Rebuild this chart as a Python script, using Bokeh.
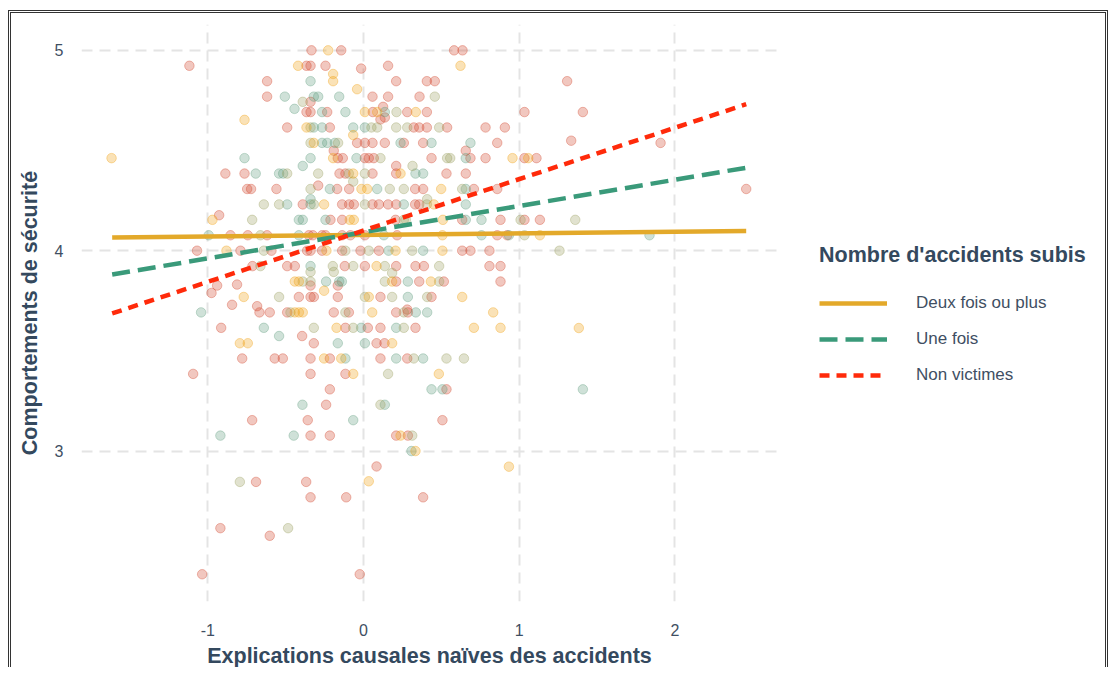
from bokeh.plotting import figure
from bokeh.models import Range1d, Legend, LegendItem, FixedTicker
from bokeh.layouts import row
from bokeh.embed import file_html
from bokeh.resources import INLINE

# ---------------- data ----------------
x_ticks = [-1, 0, 1, 2]
x_tick_labels = ["-1", "0", "1", "2"]
y_ticks = [3, 4, 5]
y_tick_labels = ["3", "4", "5"]
x_title = "Explications causales naïves des accidents"
y_title = "Comportements de sécurité"
legend_title = "Nombre d'accidents subis"
groups = ["Deux fois ou plus", "Une fois", "Non victimes"]

# fitted regression lines (end points)
fit_x = [-1.614, 2.458]
deux_y = [4.066, 4.098]
une_y = [3.881, 4.414]
non_y = [3.687, 4.731]

# scatter points (x, y) by point colour
red_pts = [
    (-0.334, 5.0), (-0.143, 5.0), (0.582, 5.0), (0.636, 5.0),
    (-1.118, 4.923), (-0.366, 4.923), (-0.340, 4.923), (-0.244, 4.923), (0.158, 4.923),
    (-0.015, 4.909),
    (-0.619, 4.846), (0.210, 4.846), (0.407, 4.846), (0.458, 4.846), (1.308, 4.846),
    (-0.619, 4.769), (0.058, 4.769), (0.158, 4.769), (0.360, 4.769),
    (-0.340, 4.743), (0.126, 4.718),
    (-0.366, 4.692), (-0.340, 4.692), (-0.233, 4.692), (0.060, 4.692), (0.281, 4.692),
    (0.407, 4.692), (1.034, 4.692), (1.409, 4.692),
    (0.109, 4.655), (0.137, 4.665),
    (-0.490, 4.615), (-0.216, 4.615), (0.323, 4.615), (0.358, 4.615), (0.407, 4.615),
    (0.537, 4.615), (0.784, 4.615), (0.908, 4.615),
    (1.334, 4.549),
    (-0.041, 4.538), (0.009, 4.538), (0.058, 4.538), (0.137, 4.538), (0.259, 4.538),
    (0.383, 4.538), (0.859, 4.538), (1.908, 4.538),
    (-0.191, 4.499), (0.657, 4.499),
    (-0.165, 4.462), (-0.133, 4.462), (0.009, 4.462), (0.034, 4.462), (0.066, 4.462),
    (0.437, 4.462), (0.687, 4.462), (0.784, 4.462), (1.034, 4.462), (1.111, 4.462),
    (0.210, 4.423),
    (-0.887, 4.385), (-0.764, 4.385), (-0.154, 4.385), (-0.116, 4.385), (0.058, 4.385),
    (0.210, 4.385), (0.533, 4.385), (0.657, 4.385),
    (-0.291, 4.325),
    (-0.747, 4.308), (-0.722, 4.308), (-0.559, 4.308), (-0.169, 4.308), (-0.092, 4.308),
    (0.332, 4.308), (0.383, 4.308), (0.709, 4.308), (0.859, 4.308), (2.458, 4.308),
    (-0.390, 4.231), (-0.137, 4.231), (-0.092, 4.231), (-0.062, 4.231), (0.058, 4.231),
    (0.099, 4.231), (0.158, 4.231), (0.210, 4.231), (0.332, 4.231), (0.358, 4.231),
    (-0.927, 4.177),
    (-0.212, 4.154), (-0.137, 4.154), (0.206, 4.154), (0.634, 4.154), (0.880, 4.154),
    (1.034, 4.154), (1.133, 4.154),
    (-0.854, 4.077), (-0.743, 4.077), (-0.619, 4.077), (-0.351, 4.077), (-0.325, 4.077),
    (-0.266, 4.077), (-0.244, 4.077), (-0.137, 4.077), (-0.084, 4.077), (0.009, 4.077),
    (0.216, 4.077), (0.859, 4.077), (0.923, 4.077),
    (-1.069, 4.0), (-0.790, 4.0), (-0.591, 4.0), (-0.362, 4.0), (-0.340, 4.0),
    (-0.266, 4.0), (-0.137, 4.0), (-0.019, 4.0), (0.099, 4.0), (0.634, 4.0),
    (0.687, 4.0), (0.809, 4.0),
    (-0.713, 3.923), (-0.490, 3.923), (-0.441, 3.923), (-0.120, 3.923), (0.009, 3.923),
    (0.210, 3.923), (0.334, 3.923), (0.388, 3.923), (0.809, 3.923), (0.880, 3.923),
    (-0.940, 3.826), (-0.812, 3.831), (-0.340, 3.826), (-0.165, 3.826),
    (0.210, 3.846), (0.358, 3.846), (0.516, 3.846), (0.880, 3.846),
    (-0.976, 3.789),
    (-0.415, 3.769), (-0.340, 3.769), (-0.319, 3.769), (-0.165, 3.769), (0.109, 3.769),
    (0.437, 3.769),
    (-0.844, 3.730), (-0.683, 3.723), (0.281, 3.706),
    (-0.668, 3.692), (-0.602, 3.692), (-0.490, 3.692), (-0.191, 3.692), (-0.094, 3.692),
    (0.210, 3.692), (0.285, 3.692),
    (-0.914, 3.615), (-0.116, 3.615), (0.028, 3.615), (0.109, 3.615), (0.334, 3.615),
    (-0.394, 3.574),
    (-0.319, 3.538), (0.084, 3.538), (0.135, 3.538),
    (-0.779, 3.462), (-0.570, 3.462), (-0.518, 3.462), (-0.340, 3.462), (-0.216, 3.462),
    (0.109, 3.462), (0.281, 3.462),
    (-1.094, 3.385), (-0.340, 3.385), (-0.116, 3.385),
    (-0.216, 3.308), (0.533, 3.308),
    (-0.240, 3.231),
    (-0.715, 3.154), (-0.358, 3.154), (0.507, 3.154),
    (-0.340, 3.077), (-0.216, 3.077), (0.210, 3.077), (0.285, 3.077),
    (0.084, 2.923),
    (-0.690, 2.846), (-0.368, 2.846),
    (-0.340, 2.769), (-0.111, 2.769), (0.383, 2.769),
    (-0.919, 2.615), (-0.602, 2.577),
    (-1.036, 2.385), (-0.024, 2.385),
]

teal_pts = [
    (-0.340, 4.846),
    (-0.505, 4.769), (-0.319, 4.769), (-0.291, 4.769), (-0.156, 4.769),
    (-0.443, 4.708),
    (-0.266, 4.692), (-0.116, 4.692), (0.137, 4.692),
    (-0.319, 4.615), (-0.266, 4.615), (-0.066, 4.615), (0.009, 4.615),
    (-0.266, 4.538), (-0.233, 4.538), (-0.184, 4.538), (0.238, 4.538), (0.437, 4.538),
    (0.687, 4.538),
    (-0.764, 4.462), (-0.340, 4.462), (-0.045, 4.462), (0.657, 4.462),
    (-0.390, 4.423),
    (-0.692, 4.385), (-0.542, 4.385), (-0.516, 4.385), (0.334, 4.385), (0.383, 4.385),
    (-0.216, 4.308), (0.088, 4.308), (0.657, 4.308),
    (-0.340, 4.257),
    (-0.490, 4.231), (-0.340, 4.231), (0.259, 4.231), (0.657, 4.231),
    (-0.415, 4.154), (-0.390, 4.154), (-0.244, 4.154), (0.657, 4.154), (0.758, 4.154),
    (-0.994, 4.077), (-0.415, 4.077), (0.131, 4.077), (0.758, 4.077), (0.934, 4.077),
    (1.837, 4.077),
    (0.161, 4.0), (0.383, 4.0),
    (-0.340, 3.923),
    (-0.240, 3.846), (-0.156, 3.846), (-0.139, 3.846), (0.285, 3.846),
    (0.285, 3.769),
    (-1.043, 3.692), (0.336, 3.692), (0.409, 3.692),
    (-0.640, 3.615), (-0.015, 3.615), (0.210, 3.615),
    (-0.542, 3.574),
    (-0.165, 3.538), (0.009, 3.538),
    (-0.116, 3.462), (0.210, 3.462), (0.383, 3.462),
    (0.437, 3.308), (0.507, 3.308), (1.409, 3.308),
    (-0.392, 3.231), (0.137, 3.231),
    (-0.066, 3.154),
    (-0.919, 3.077), (-0.448, 3.077),
    (0.308, 3.0),
]

olive_pts = [
    (0.458, 4.769), (-0.390, 4.743), (0.212, 4.692),
    (-0.340, 4.615), (0.051, 4.615), (0.088, 4.615), (0.210, 4.615), (0.281, 4.615),
    (0.486, 4.615),
    (-0.340, 4.538), (-0.163, 4.538),
    (0.109, 4.462), (0.537, 4.462), (0.557, 4.462),
    (0.315, 4.423),
    (-0.490, 4.385), (-0.291, 4.385), (-0.094, 4.385), (0.009, 4.385),
    (-0.066, 4.345),
    (-0.340, 4.308), (0.169, 4.308), (0.259, 4.308), (0.634, 4.308),
    (-0.640, 4.231), (-0.542, 4.231), (-0.319, 4.231), (0.009, 4.231), (0.407, 4.231),
    (0.409, 4.257),
    (-0.715, 4.154), (0.259, 4.154), (0.272, 4.154), (1.009, 4.154), (1.360, 4.154),
    (-0.662, 4.077), (1.034, 4.077),
    (-0.640, 4.0), (-0.116, 4.0), (0.034, 4.0), (0.313, 4.0), (1.259, 4.0),
    (-0.662, 3.923), (-0.197, 3.923), (-0.066, 3.923), (0.137, 3.923), (0.486, 3.923),
    (-0.340, 3.894), (-0.191, 3.894), (0.184, 3.889),
    (-0.390, 3.846), (-0.340, 3.846), (0.137, 3.846), (0.486, 3.846),
    (-0.542, 3.769), (0.009, 3.769), (0.184, 3.769), (0.409, 3.769),
    (-0.469, 3.692), (-0.116, 3.692), (0.259, 3.692),
    (-0.319, 3.615), (-0.066, 3.615), (0.259, 3.615),
    (0.323, 3.462), (0.533, 3.462), (0.645, 3.462),
    (0.158, 3.385),
    (0.109, 3.231),
    (0.313, 3.077),
    (-0.794, 2.846),
    (-0.484, 2.615),
]

yellow_pts = [
    (-1.618, 4.462),
    (-0.227, 5.0),
    (-0.420, 4.923), (0.623, 4.923),
    (-0.195, 4.882), (-0.195, 4.846), (-0.041, 4.806),
    (-0.764, 4.653),
    (0.009, 4.692), (0.088, 4.692), (0.336, 4.692),
    (-0.366, 4.615), (-0.066, 4.577),
    (-0.319, 4.538),
    (-0.195, 4.462), (0.957, 4.462), (1.058, 4.462),
    (-0.066, 4.385), (0.238, 4.385),
    (-0.013, 4.308), (0.024, 4.308), (0.499, 4.308),
    (-0.253, 4.231), (0.452, 4.231),
    (-0.970, 4.154), (-0.088, 4.154), (-0.062, 4.154), (0.510, 4.154),
    (0.507, 4.077), (1.133, 4.077),
    (-0.880, 4.0), (-0.238, 4.0), (0.206, 4.0), (0.507, 4.0),
    (0.084, 3.923),
    (-0.441, 3.846), (-0.415, 3.846), (0.184, 3.846), (0.433, 3.846),
    (-0.253, 3.800),
    (-0.769, 3.769), (0.034, 3.769), (0.634, 3.769),
    (-0.441, 3.692), (-0.415, 3.692), (-0.390, 3.692), (0.056, 3.692), (0.833, 3.692),
    (-0.173, 3.615), (0.709, 3.615), (0.880, 3.615), (1.383, 3.614),
    (-0.794, 3.538), (-0.743, 3.538), (0.184, 3.538),
    (-0.253, 3.462), (-0.143, 3.462),
    (-0.066, 3.385), (0.484, 3.385),
    (0.238, 3.077),
    (0.334, 3.0),
    (0.934, 2.922),
    (0.034, 2.849),
]

# ---------------- styling ----------------
TITLE_COL = "#34495E"
TICK_COL = "#3F4F63"
FONT = "Liberation Sans"
BORDER = "3px double #333"
H = 657
W_MAIN = 795
W_LEG = 305

p = figure(width=W_MAIN, height=H, output_backend="svg", toolbar_location=None,
           x_range=Range1d(-1.811, 2.659), y_range=Range1d(2.249, 5.129),
           min_border_left=70, min_border_top=11, min_border_bottom=67,
           min_border_right=W_MAIN - 70 - 696)
p.styles = {"border-top": BORDER, "border-left": BORDER}
p.outline_line_color = None
p.background_fill_color = "white"
p.border_fill_color = "white"

for ax in (p.xaxis[0], p.yaxis[0]):
    ax.axis_line_color = None
    ax.major_tick_line_color = None
    ax.minor_tick_line_color = None
    ax.major_tick_out = 0
    ax.major_tick_in = 0
    ax.major_label_text_font = FONT
    ax.major_label_text_font_size = "16px"
    ax.major_label_text_color = TICK_COL
    ax.axis_label_text_font = FONT
    ax.axis_label_text_font_size = "21.5px"
    ax.axis_label_text_font_style = "bold"
    ax.axis_label_text_color = TITLE_COL

p.xaxis.ticker = FixedTicker(ticks=x_ticks)
p.yaxis.ticker = FixedTicker(ticks=y_ticks)
p.xaxis.major_label_overrides = {t: s for t, s in zip(x_ticks, x_tick_labels)}
p.yaxis.major_label_overrides = {t: s for t, s in zip(y_ticks, y_tick_labels)}
p.xaxis.axis_label = x_title
p.yaxis.axis_label = y_title
p.xaxis.major_label_standoff = 22
p.xaxis.axis_label_standoff = 5
p.yaxis.major_label_standoff = 18
p.yaxis.axis_label_standoff = 10

for g in (p.xgrid[0], p.ygrid[0]):
    g.grid_line_color = "#E4E4E4"
    g.grid_line_width = 2
    g.grid_line_dash = "11 7"
p.xgrid.ticker = FixedTicker(ticks=x_ticks)
p.ygrid.ticker = FixedTicker(ticks=y_ticks)

point_sets = [
    (red_pts, "#D2462B"),
    (teal_pts, "#619D7F"),
    (olive_pts, "#9BA061"),
    (yellow_pts, "#F0A012"),
]
for pts, col in point_sets:
    xs = [a for a, b in pts]
    ys = [b for a, b in pts]
    p.scatter(xs, ys, size=9.5, fill_color=col, fill_alpha=0.3,
              line_color=col, line_alpha=0.36, line_width=1)

line_styles = [
    dict(line_color="#E3A92A", line_width=4.5),
    dict(line_color="#3A9A7A", line_width=4.5, line_dash="18 8"),
    dict(line_color="#FF2A0A", line_width=4.5, line_dash="10 7"),
]
fit_ys = [deux_y, une_y, non_y]
for ys, st in zip(fit_ys, line_styles):
    p.line(fit_x, ys, **st)

# ---------------- legend panel (separate figure to the right) ----------------
# same fitted lines, but outside this panel's visible range: they only feed the legend
q = figure(width=W_LEG, height=H, output_backend="svg", toolbar_location=None,
           x_range=Range1d(0, 1), y_range=Range1d(0, 1),
           min_border=0, min_border_left=0, min_border_right=0,
           min_border_top=0, min_border_bottom=0)
q.styles = {"border-top": BORDER, "border-right": BORDER}
q.axis.visible = False
q.grid.visible = False
q.outline_line_color = None
q.background_fill_color = "white"
q.border_fill_color = "white"

items = []
for name, ys, st in zip(groups, fit_ys, line_styles):
    r = q.line(fit_x, ys, **st)
    items.append(LegendItem(label=name, renderers=[r]))

legend = Legend(items=items, location=(16, 216))
legend.title = legend_title
legend.title_text_font = FONT
legend.title_text_font_size = "21.5px"
legend.title_text_font_style = "bold"
legend.title_text_color = TITLE_COL
legend.title_standoff = 25
legend.label_text_font = FONT
legend.label_text_font_size = "17px"
legend.label_text_color = TICK_COL
legend.label_standoff = 29
legend.glyph_width = 68
legend.glyph_height = 20
legend.label_height = 20
legend.spacing = 16
legend.padding = 10
legend.margin = 0
legend.border_line_color = None
legend.background_fill_alpha = 0
q.add_layout(legend, "center")

layout = row(p, q)
layout.styles = {"margin-left": "8px", "margin-top": "10px"}

open("out.html", "w").write(file_html(layout, INLINE))
